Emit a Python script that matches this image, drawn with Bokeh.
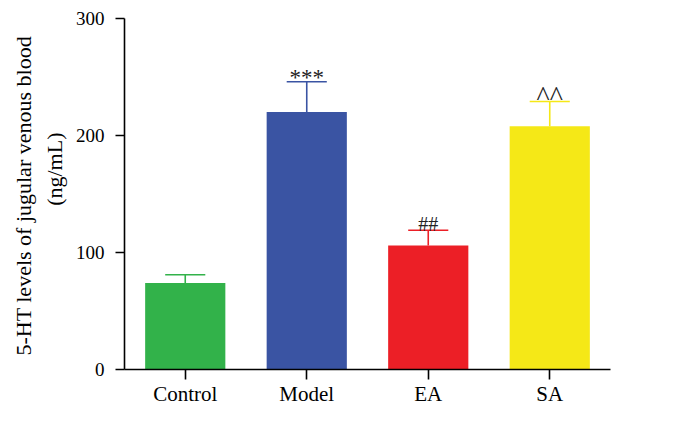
from bokeh.plotting import figure
from bokeh.models import ColumnDataSource, FactorRange, Range1d, FixedTicker, Title
from bokeh.transform import dodge
from bokeh.core.properties import value
from bokeh.embed import file_html
from bokeh.resources import INLINE

groups = ["Control", "Model", "EA", "SA"]
means = [74, 220, 106, 208]
upper = [81, 246, 119, 229]
marks = ["", "***", "##", "^^"]
mark_sizes = ["20px", "23px", "20px", "28px"]
mark_offsets = [0, -4, -6, -6]
colors = ["#32b24a", "#3a54a3", "#ec1f26", "#f5e817"]
y_ticks = [0, 100, 200, 300]

FONT = "Liberation Serif"

src = ColumnDataSource(dict(g=groups, m=means, u=upper, t=marks, c=colors,
                            fs=mark_sizes, yo=mark_offsets))

p = figure(width=659, height=408, output_backend="svg", toolbar_location=None,
           x_range=FactorRange(factors=groups), y_range=Range1d(0, 300),
           min_border_left=124, min_border_right=49, min_border_top=18, min_border_bottom=34)
p.outline_line_color = None
p.grid.visible = False
p.background_fill_color = "white"
p.border_fill_color = "white"

p.vbar(x="g", top="m", bottom=0, width=0.66, fill_color="c", line_color=None, source=src)
p.segment(x0="g", x1="g", y0="m", y1="u", line_color="c", line_width=1.6, source=src)
p.segment(x0=dodge("g", -0.165, range=p.x_range), x1=dodge("g", 0.165, range=p.x_range),
          y0="u", y1="u", line_color="c", line_width=1.6, source=src)
p.text(x="g", y="u", text="t", source=src, text_align="center", text_baseline="alphabetic",
       y_offset="yo", text_font=value(FONT), text_font_size="fs", text_color="#222222")

for ax in (p.xaxis, p.yaxis):
    ax.axis_line_width = 1.6
    ax.axis_line_color = "black"
    ax.major_tick_line_width = 1.6
    ax.major_tick_line_color = "black"
    ax.major_tick_in = 0
    ax.minor_tick_line_color = None
    ax.major_label_text_font = FONT
    ax.major_label_text_color = "black"

p.yaxis.ticker = FixedTicker(ticks=y_ticks)
p.yaxis.major_tick_out = 9
p.yaxis.major_label_standoff = 11
p.yaxis.major_label_text_font_size = "19px"
p.xaxis.major_tick_out = 10
p.xaxis.major_label_standoff = 2
p.xaxis.major_label_text_font_size = "21px"

p.add_layout(Title(text="(ng/mL)", align="right", offset=114, standoff=10, vertical_align="middle",
                   text_font=FONT, text_font_size="22px", text_font_style="normal",
                   text_color="black"), "left")
p.add_layout(Title(text="5-HT levels of jugular venous blood", align="left", offset=14, standoff=0,
                   text_font=FONT, text_font_size="22px", text_font_style="normal",
                   text_color="black"), "left")

open("out.html", "w").write(file_html(p, INLINE))
